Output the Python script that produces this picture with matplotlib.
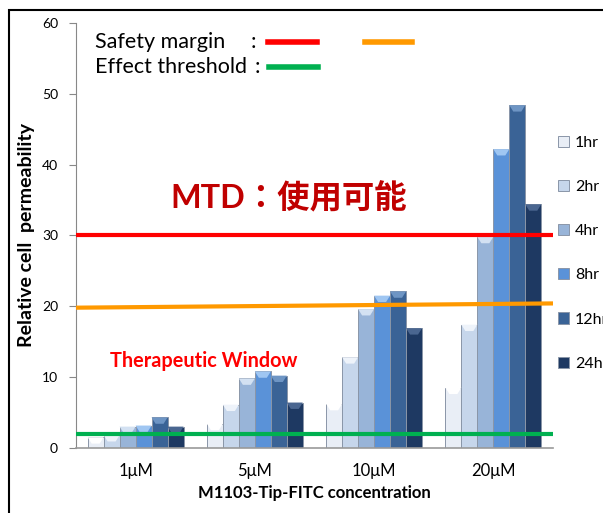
import numpy as np
import matplotlib.pyplot as plt
from matplotlib.patches import Polygon, Rectangle, Patch
from matplotlib.lines import Line2D

plt.rcParams['font.family'] = ['Lato', 'Noto Sans CJK JP', 'DejaVu Sans']

concentrations = ["1μM", "5μM", "10μM", "20μM"]
times = ["1hr", "2hr", "4hr", "8hr", "12hr", "24hr"]
permeability = [
    [1.5, 1.8, 3.0, 3.15, 4.3, 3.0],
    [3.4, 6.1, 9.8, 10.8, 10.2, 6.4],
    [6.2, 12.8, 19.6, 21.5, 22.1, 16.9],
    [8.5, 17.4, 29.8, 42.2, 48.4, 34.4],
]
colors = ["#E9EEF6", "#C6D6EB", "#98B4D8", "#5A92D8", "#3A6396", "#1E3962"]
cap_colors = ["#FFFFFF", "#EEF3FA", "#D3E1F2", "#9FC6F2", "#6E95C4", "#4A6690"]

safety_margin = 30
upper_line = [19.8, 20.4]
effect_threshold = 2

fig = plt.figure(figsize=(6.03, 5.13), dpi=100)
ax = fig.add_axes([0.126, 0.127, 0.791, 0.828])

x = np.arange(len(concentrations))
width = 0.134
vals = np.array(permeability)
for j, t in enumerate(times):
    xs = x + (j - 2.5) * width
    bars = ax.bar(xs, vals[:, j], width, color=colors[j], edgecolor="#8A96A8",
                  linewidth=0.7, label=t, zorder=2)
    # bevelled top on each bar
    for b in bars:
        x0 = b.get_x()
        x1 = x0 + b.get_width()
        h = b.get_height()
        d = b.get_width() * 0.25
        c = 0.9
        ax.add_patch(Polygon([(x0, h), (x1, h), (x1 - d, h - c), (x0 + d, h - c)],
                             closed=True, facecolor=cap_colors[j], edgecolor="none", zorder=3))

ax.plot([-0.5, 3.5], [safety_margin, safety_margin], color="#FF0000", lw=3, zorder=4)
ax.plot([-0.5, 3.5], upper_line, color="#FF9900", lw=3, zorder=4)
ax.plot([-0.5, 3.5], [effect_threshold, effect_threshold], color="#00B050", lw=3, zorder=4)

ax.set_xlim(-0.5, 3.5)
ax.set_ylim(0, 60)
ax.set_yticks(range(0, 61, 10))
ax.set_xticks(x)
ax.set_xticklabels(concentrations, fontsize=12)
ax.tick_params(axis="y", labelsize=10, length=5, color="#888888", pad=8)
ax.tick_params(axis="x", length=0, pad=11)
for s in ["top", "right"]:
    ax.spines[s].set_visible(False)
ax.spines["left"].set_color("#888888")
ax.spines["bottom"].set_color("#999999")
ax.spines["bottom"].set_linewidth(1.2)

ax.set_xlabel("M1103-Tip-FITC concentration", fontsize=12, fontweight="bold", labelpad=4)
ax.set_ylabel("Relative cell  permeability", fontsize=14, fontweight="bold", labelpad=5)

ax.text(1.28, 35.4, "MTD：使用可能", color="#C00000", fontsize=23.3, fontweight="bold",
        ha="center", va="center")
ax.text(0.57, 12.2, "Therapeutic Window", color="#FF0000", fontsize=14.3,
        fontweight="bold", ha="center", va="center")

# key lines at the top left
fig.text(0.158, 0.918, "Safety margin", fontsize=15.5, va="center")
fig.text(0.158, 0.869, "Effect threshold", fontsize=15.5, va="center")
fig.text(0.416, 0.918, ":", fontsize=15.5, va="center")
fig.text(0.422, 0.869, ":", fontsize=15.5, va="center")
fig.add_artist(Line2D([0.445, 0.526], [0.919, 0.919], color="#FF0000", lw=4))
fig.add_artist(Line2D([0.605, 0.683], [0.919, 0.919], color="#FF9900", lw=4))
fig.add_artist(Line2D([0.446, 0.527], [0.869, 0.869], color="#00B050", lw=4))

handles = [Patch(facecolor=c, edgecolor="#8A96A8", linewidth=0.7) for c in colors]
fig.legend(handles, times, loc="upper left", bbox_to_anchor=(0.915, 0.748),
           frameon=False, fontsize=11.5, handlelength=0.7, handleheight=0.7,
           handletextpad=0.35, labelspacing=1.88, borderaxespad=0)

fig.add_artist(Rectangle((0.015, -0.1), 1.2, 1.08, transform=fig.transFigure,
                         fill=False, edgecolor="black", linewidth=1.5))

fig.savefig("out.png", dpi=100)
